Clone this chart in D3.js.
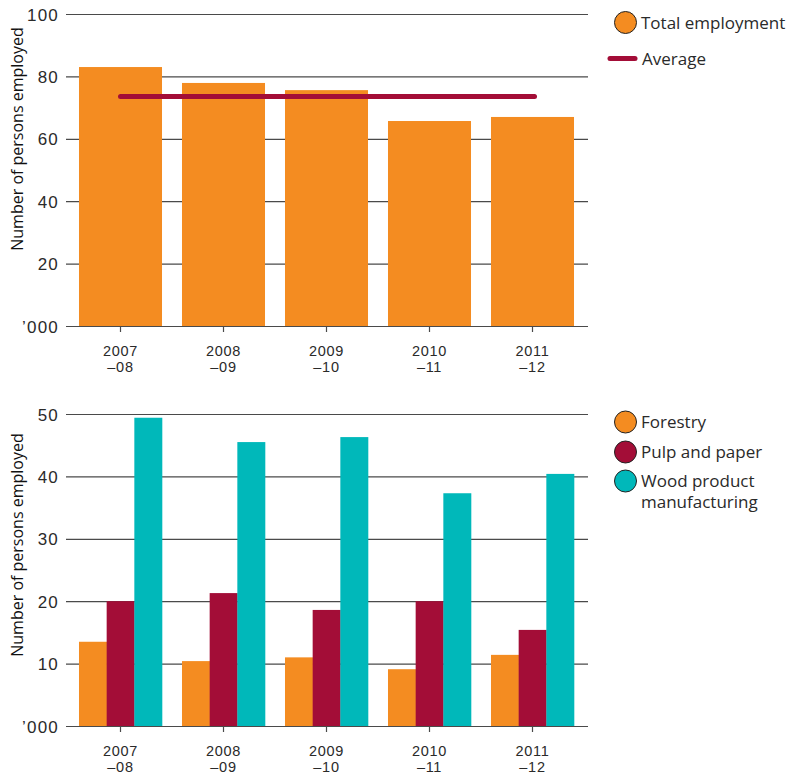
<!DOCTYPE html>
<html>
<head>
<meta charset="utf-8">
<script src="https://cdn.jsdelivr.net/npm/d3@7"></script>
<style>
  body { margin: 0; background: #fff; }
  svg { display: block; font-family: "Open Sans", sans-serif; }
</style>
</head>
<body>
<svg id="chart" width="791" height="778"></svg>
<script>
// ---- data ----
const years = ["2007–08", "2008–09", "2009–10", "2010–11", "2011–12"];
const totalEmployment = [83.0, 77.9, 75.6, 65.7, 67.0];
const forestry = [13.5, 10.4, 11.0, 9.1, 11.4];
const pulpPaper = [20.0, 21.3, 18.6, 20.0, 15.4];
const woodProduct = [49.4, 45.5, 46.3, 37.3, 40.4];
const topTicks = [0, 20, 40, 60, 80, 100];
const bottomTicks = [0, 10, 20, 30, 40, 50];
const seriesNames = ["Forestry", "Pulp and paper", "Wood product manufacturing"];
const yTitle = "Number of persons employed";

const ORANGE = "#F48C21", CRIMSON = "#A30D37", TEAL = "#00B8BA";
const seriesColors = [ORANGE, CRIMSON, TEAL];
const TEXT = "#2a2a2a", GRID = "#4a4a4a";

const svg = d3.select("#chart");
const gridX0 = 66, gridX1 = 588;

const x = d3.scaleBand().domain(years).range([69, 584])
  .paddingInner(0.194).paddingOuter(0.097);

function drawPanel(g, y, ticks, titleCenter) {
  // gridlines + y labels
  const yAxis = d3.axisLeft(y).tickValues(ticks)
    .tickSize(-(gridX1 - gridX0)).tickPadding(7)
    .tickFormat(d => d === 0 ? "’000" : d);
  const ga = g.append("g").attr("transform", `translate(${gridX0},0)`).call(yAxis);
  ga.select(".domain").remove();
  ga.selectAll(".tick line").attr("stroke", GRID).attr("stroke-width", 1.2);
  ga.selectAll(".tick text").attr("fill", TEXT)
    .style("font-size", "17px").style("font-weight", 300)
    .style("letter-spacing", "1.2px").attr("dy", "0.36em");

  // y title
  g.append("text")
    .attr("transform", `translate(23,${titleCenter}) rotate(-90)`)
    .attr("text-anchor", "middle").attr("fill", "#111")
    .style("font-size", "16px").style("font-weight", 500)
    .text(yTitle);
}

function drawXAxis(g, yBase) {
  const xAxis = d3.axisBottom(x).tickSize(6).tickPadding(0).tickFormat("");
  const gx = g.append("g").attr("transform", `translate(0,${yBase})`).call(xAxis);
  gx.select(".domain").remove();
  gx.selectAll(".tick line").attr("stroke", GRID).attr("stroke-width", 1.2);
  gx.selectAll(".tick").each(function(d) {
    const parts = d.split("–");
    const t = d3.select(this).append("text")
      .attr("text-anchor", "middle").attr("fill", TEXT)
      .style("font-size", "14.5px").style("font-weight", 400)
      .style("letter-spacing", "0.7px");
    t.append("tspan").attr("x", 0).attr("y", 30).text(parts[0]);
    t.append("tspan").attr("x", 0).attr("y", 46).text("–" + parts[1]);
  });
}

// ---- top panel ----
const yTop = d3.scaleLinear().domain([0, 100]).range([326, 14]);
const gTop = svg.append("g");
drawPanel(gTop, yTop, topTicks, 139);

gTop.append("g").selectAll("rect").data(totalEmployment).join("rect")
  .attr("x", (d, i) => x(years[i]))
  .attr("width", x.bandwidth())
  .attr("y", d => yTop(d))
  .attr("height", d => yTop(0) - yTop(d))
  .attr("fill", ORANGE);

const avg = d3.mean(totalEmployment);
gTop.append("line")
  .attr("x1", x(years[0]) + x.bandwidth() / 2)
  .attr("x2", x(years[years.length - 1]) + x.bandwidth() / 2 + 2)
  .attr("y1", yTop(avg) + 1).attr("y2", yTop(avg) + 1)
  .attr("stroke", CRIMSON).attr("stroke-width", 5)
  .attr("stroke-linecap", "round");

drawXAxis(gTop, 326);

// top legend
const lgTop = svg.append("g");
lgTop.append("circle").attr("cx", 625.5).attr("cy", 22.5).attr("r", 11)
  .attr("fill", ORANGE).attr("stroke", "#222").attr("stroke-width", 1);
lgTop.append("text").attr("x", 641).attr("y", 28.5).attr("fill", TEXT)
  .style("font-size", "17px").style("font-weight", 400).text("Total employment");
lgTop.append("line").attr("x1", 610).attr("x2", 635).attr("y1", 58.5).attr("y2", 58.5)
  .attr("stroke", CRIMSON).attr("stroke-width", 5).attr("stroke-linecap", "round");
lgTop.append("text").attr("x", 642).attr("y", 64.5).attr("fill", TEXT)
  .style("font-size", "17px").style("font-weight", 400).text("Average");

// ---- bottom panel ----
const yBot = d3.scaleLinear().domain([0, 50]).range([726, 414]);
const gBot = svg.append("g");
drawPanel(gBot, yBot, bottomTicks, 545);

const sub = d3.scaleBand().domain(seriesNames).range([0, x.bandwidth()]).padding(0);
const seriesData = [forestry, pulpPaper, woodProduct];
seriesData.forEach((vals, s) => {
  gBot.append("g").selectAll("rect").data(vals).join("rect")
    .attr("x", (d, i) => x(years[i]) + sub(seriesNames[s]))
    .attr("width", sub.bandwidth() + 0.3)
    .attr("y", d => yBot(d))
    .attr("height", d => yBot(0) - yBot(d))
    .attr("fill", seriesColors[s]);
});

drawXAxis(gBot, 726);

// bottom legend
const lgBot = svg.append("g");
const legendY = [422, 452, 481];
seriesNames.forEach((name, i) => {
  lgBot.append("circle").attr("cx", 625.5).attr("cy", legendY[i]).attr("r", 11)
    .attr("fill", seriesColors[i]).attr("stroke", "#222").attr("stroke-width", 1);
  const t = lgBot.append("text").attr("x", 641).attr("y", legendY[i] + 6)
    .attr("fill", TEXT).style("font-size", "17px").style("font-weight", 400);
  if (i === 2) {
    t.append("tspan").attr("x", 641).text("Wood product");
    t.append("tspan").attr("x", 641).attr("dy", 21).text("manufacturing");
  } else {
    t.text(name);
  }
});
</script>
</body>
</html>
